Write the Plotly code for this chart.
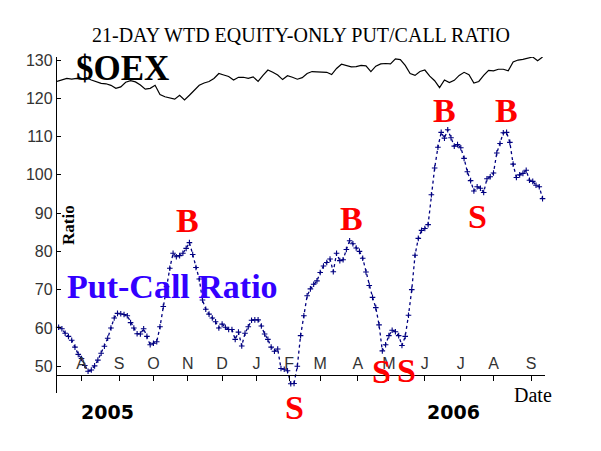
import pandas as pd
import plotly.graph_objects as go

# ---------------- data ----------------
START_DATE = "2005-07-11"
END_DATE = "2006-09-13"
HOLIDAYS = ["2005-09-05", "2005-11-24", "2005-12-26", "2006-01-02", "2006-01-16",
            "2006-02-20", "2006-04-14", "2006-05-29", "2006-07-04", "2006-09-04"]

MONTH_LABELS = ["A", "S", "O", "N", "D", "J", "F", "M", "A", "M", "J", "J", "A", "S"]
Y_TICKS = [50, 60, 70, 80, 90, 100, 110, 120, 130]
YEAR_LABELS = ["2005", "2006"]

# $OEX close, every 3rd trading day (starting with the first day)
OEX = [124.4, 124.8, 125.2, 125.0, 125.2, 125.0, 125.4, 124.8, 124.4, 123.9,
       123.8, 123.4, 122.6, 123.0, 124.2, 124.6, 124.3, 123.5, 122.4, 122.6,
       123.4, 121.0, 120.4, 120.0, 119.8, 120.8, 119.6, 120.8, 122.0, 123.4,
       124.0, 124.4, 125.2, 126.5, 126.1, 125.7, 124.8, 125.5, 125.5, 125.2,
       125.6, 124.4, 126.0, 127.4, 126.8, 126.1, 124.9, 125.9, 125.5, 125.0,
       125.4, 126.5, 127.0, 126.9, 126.9, 126.8, 126.2, 127.8, 128.9, 128.6,
       128.2, 128.3, 128.6, 128.5, 127.0, 128.4, 129.0, 129.1, 129.0, 130.3,
       130.1, 128.6, 126.5, 126.0, 127.0, 127.4, 125.8, 124.6, 122.8, 124.8,
       124.1, 124.7, 126.0, 126.8, 126.2, 124.0, 124.4, 126.0, 127.3, 127.2,
       127.6, 127.6, 127.2, 129.5, 130.0, 130.2, 130.4, 130.8, 129.8, 130.8]

# 21-day weighted equity-only put/call ratio, every 2nd trading day (from day 2)
PCR = [60.2, 59.8, 58.6, 57.8, 56.8, 55.0, 53.1, 52.0, 50.2, 48.7,
       49.0, 50.1, 51.6, 53.4, 55.2, 57.3, 60.0, 62.6, 63.8, 63.7,
       63.5, 63.2, 61.4, 60.0, 58.5, 58.4, 59.8, 57.8, 55.6, 56.0,
       56.4, 60.3, 65.6, 70.8, 75.6, 79.5, 78.6, 78.9, 79.5, 80.8,
       82.3, 79.2, 75.8, 72.8, 67.3, 64.9, 63.6, 62.6, 61.6, 60.0,
       61.0, 60.2, 59.6, 59.6, 57.0, 58.9, 55.3, 58.6, 60.3, 62.0,
       62.1, 62.1, 60.5, 58.4, 57.0, 55.0, 53.9, 54.5, 49.4, 49.2,
       48.8, 45.4, 45.5, 50.0, 58.0, 63.2, 68.4, 70.2, 71.4, 72.3,
       74.5, 76.2, 77.1, 78.0, 74.7, 79.5, 77.6, 77.8, 80.5, 82.8,
       82.0, 80.9, 80.0, 78.2, 74.6, 71.1, 68.0, 65.3, 60.8, 54.0,
       55.6, 58.0, 59.4, 59.0, 58.0, 55.4, 57.8, 63.3, 70.0, 79.0,
       83.4, 85.5, 86.0, 87.0, 94.8, 101.8, 107.2, 111.1, 109.6, 111.8,
       109.7, 107.5, 107.9, 107.1, 104.3, 100.8, 98.5, 95.8, 96.9, 96.5,
       95.4, 99.0, 99.5, 100.5, 105.7, 108.2, 111.0, 111.1, 108.5, 102.8,
       99.3, 100.0, 100.4, 101.2, 98.6, 98.3, 97.3, 96.9, 93.8]

# Buy / Sell signal letters: (label, trading-day index, level)
SIGNALS = [("B", 80.1, 88.0), ("S", 145.0, 39.1), ("B", 180.4, 88.5),
           ("S", 198.2, 48.5), ("S", 213.5, 49.0), ("B", 237.3, 116.9),
           ("S", 257.5, 89.1), ("B", 274.9, 116.7)]

# ---------------- trading-day axis ----------------
days = pd.bdate_range(START_DATE, END_DATE, freq="C", holidays=HOLIDAYS)
day_idx = list(range(len(days)))
oex_x = day_idx[0::3][:len(OEX)]
pcr_x = day_idx[1::2][:len(PCR)]

month_starts = [i for i in range(1, len(days)) if days[i].month != days[i - 1].month]
tick_vals = month_starts[:len(MONTH_LABELS)]

Y_RANGE = [43.0, 130.8]

NAVY = "#000080"
fig = go.Figure()
fig.add_trace(go.Scatter(x=oex_x, y=OEX, mode="lines",
                         line=dict(color="black", width=1.2), hoverinfo="skip"))
fig.add_trace(go.Scatter(x=pcr_x, y=PCR, mode="lines+markers",
                         line=dict(color=NAVY, width=1.3, dash="dot"),
                         marker=dict(symbol="cross-thin", size=4,
                                     line=dict(color=NAVY, width=1.1)),
                         hoverinfo="skip", cliponaxis=False))

serif = "Liberation Serif, Times New Roman, serif"
sans = "Liberation Sans, Arial, sans-serif"


def to_paper_y(v):
    return (v - Y_RANGE[0]) / (Y_RANGE[1] - Y_RANGE[0])


annotations = []
for lab, xi, yv in SIGNALS:
    annotations.append(dict(x=xi, y=to_paper_y(yv), xref="x", yref="paper",
                            text="<b>" + lab + "</b>", showarrow=False,
                            font=dict(family=serif, size=34, color="#ff0000"),
                            xanchor="center", yanchor="middle"))
annotations += [
    dict(x=0.135, y=0.967, xref="paper", yref="paper", text="<b>$OEX</b>", showarrow=False,
         font=dict(family=serif, size=35, color="black"), xanchor="center", yanchor="middle"),
    dict(x=0.2357, y=0.3155, xref="paper", yref="paper", text="<b>Put-Call Ratio</b>",
         showarrow=False, font=dict(family=serif, size=34, color="#3300ff"),
         xanchor="center", yanchor="middle"),
    dict(x=0.0225, y=0.5, xref="paper", yref="paper", text="<b>Ratio</b>", textangle=-90,
         showarrow=False, font=dict(family=serif, size=17, color="black"),
         xanchor="center", yanchor="middle"),
    dict(x=0.975, y=-0.006, xref="paper", yref="paper", text="Date", showarrow=False,
         font=dict(family=serif, size=20, color="black"), xanchor="center", yanchor="middle"),
    dict(x=0.1045, y=-0.058, xref="paper", yref="paper", text="<b>" + YEAR_LABELS[0] + "</b>",
         showarrow=False, font=dict(family="DejaVu Sans", size=19, color="black"),
         xanchor="center", yanchor="middle"),
    dict(x=0.8135, y=-0.058, xref="paper", yref="paper", text="<b>" + YEAR_LABELS[1] + "</b>",
         showarrow=False, font=dict(family="DejaVu Sans", size=19, color="black"),
         xanchor="center", yanchor="middle"),
]

# the page body adds an 8px offset, so margins are reduced by 8px on the left/top
fig.update_layout(
    width=601, height=451,
    margin=dict(l=49, r=64, t=49, b=66),
    plot_bgcolor="white", paper_bgcolor="white",
    showlegend=False,
    title=dict(text="21-DAY WTD EQUITY-ONLY PUT/CALL RATIO", x=293 / 601, xanchor="center",
               y=1 - 27 / 451, yanchor="middle", yref="container",
               font=dict(family=serif, size=20, color="black")),
    xaxis=dict(range=[0, 298.5], anchor="free", position=0.0536, automargin=False,
               showline=True, linecolor="black", linewidth=1.3,
               tickmode="array", tickvals=tick_vals, ticktext=MONTH_LABELS,
               ticks="outside", ticklen=5, tickcolor="black", tickwidth=1,
               ticklabelstandoff=-31,
               tickfont=dict(family=sans, size=16, color="#333333"),
               showgrid=False, zeroline=False),
    yaxis=dict(range=Y_RANGE, showline=True, linecolor="black", linewidth=1.3,
               automargin=False,
               tickmode="array", tickvals=Y_TICKS,
               ticks="inside", ticklen=4, tickcolor="black",
               tickfont=dict(family=sans, size=16, color="#333333"),
               showgrid=False, zeroline=False),
    annotations=annotations,
)

fig.write_html("out.html", config={"displayModeBar": False})
